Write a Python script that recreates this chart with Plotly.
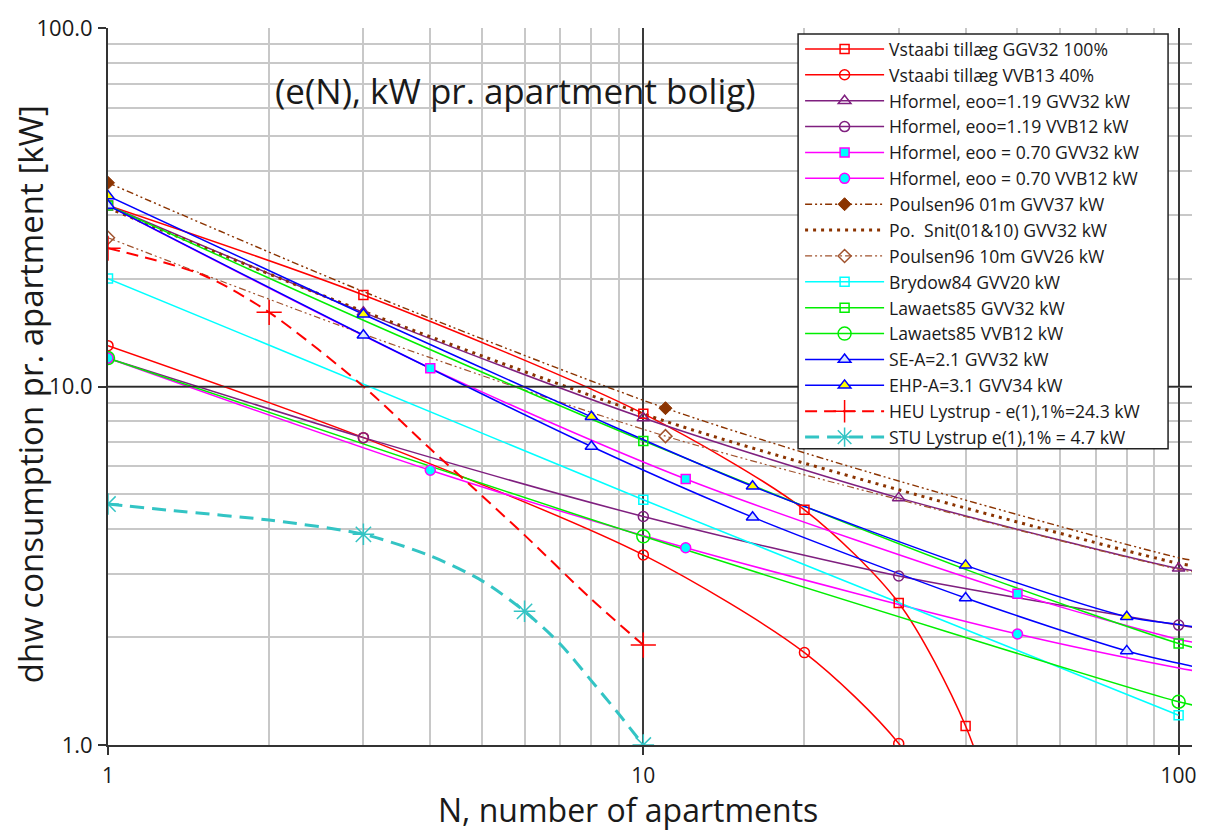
import plotly.graph_objects as go

# ---------------- data ----------------
N_vst_ggv = [1, 3, 10, 20, 30, 40, 50]
e_vst_ggv = [32, 18.0, 8.4, 4.53, 2.49, 1.13, 0.4]
mk_vst_ggv = [0, 1, 2, 3, 4, 5]

N_vst_vvb = [1, 3, 10, 20, 30, 40]
e_vst_vvb = [13, 7.2, 3.39, 1.81, 1.01, 0.5]
mk_vst_vvb = [0, 1, 2, 3, 4]

N_hf119_gvv = [1, 3, 10, 30, 100, 110]
e_hf119_gvv = [32, 16.1, 8.17, 4.89, 3.11, 3.05]
mk_hf119_gvv = [0, 1, 2, 3, 4]

N_hf119_vvb = [1, 3, 10, 30, 100, 110]
e_hf119_vvb = [12, 7.2, 4.34, 2.96, 2.16, 2.11]
mk_hf119_vvb = [0, 1, 2, 3, 4]

N_hf070_gvv = [1, 4, 12, 50, 100, 110]
e_hf070_gvv = [32, 11.25, 5.52, 2.64, 1.97, 1.92]
mk_hf070_gvv = [0, 1, 2, 3]

N_hf070_vvb = [1, 4, 12, 50, 100, 110]
e_hf070_vvb = [12, 5.84, 3.55, 2.04, 1.64, 1.60]
mk_hf070_vvb = [0, 1, 2, 3]

N_p01 = [1, 3, 11, 30, 100, 110]
e_p01 = [37, 18.4, 8.7, 5.45, 3.33, 3.25]
mk_p01 = [0, 2]

N_snit = [1, 3, 11, 30, 100, 110]
e_snit = [31.5, 16.2, 8.0, 5.15, 3.21, 3.14]
mk_snit = []

N_p10 = [1, 3, 11, 30, 100, 110]
e_p10 = [26, 14.0, 7.27, 4.84, 3.09, 3.02]
mk_p10 = [0, 2]

N_bry = [1, 10, 100]
e_bry = [20, 4.83, 1.21]
mk_bry = [0, 1, 2]

N_law_gvv = [1, 3, 10, 40, 100, 110]
e_law_gvv = [32, 15.3, 7.05, 3.09, 1.92, 1.85]
mk_law_gvv = [0, 2, 4]

N_law_vvb = [1, 10, 100, 110]
e_law_vvb = [12, 3.82, 1.32, 1.28]
mk_law_vvb = [0, 1, 2]

N_sea = [1, 3, 8, 16, 40, 80, 100, 110]
e_sea = [32, 13.9, 6.8, 4.32, 2.57, 1.83, 1.69, 1.64]
mk_sea = [0, 1, 2, 3, 4, 5]

N_ehp = [1, 3, 8, 16, 40, 80, 100, 110]
e_ehp = [34, 15.9, 8.23, 5.27, 3.17, 2.28, 2.17, 2.12]
mk_ehp = [0, 1, 2, 3, 4, 5]

N_heu = [1, 1.5, 2, 3, 4, 5, 6, 8, 10]
e_heu = [24.3, 20.5, 16.1, 10.0, 6.7, 4.95, 3.85, 2.55, 1.9]
mk_heu = [0, 2, 8]

N_stu = [1, 1.33, 2, 3, 4, 5, 6, 7, 8, 9, 10]
e_stu = [4.7, 4.5, 4.24, 3.87, 3.37, 2.87, 2.36, 1.91, 1.51, 1.22, 1.0]
mk_stu = [0, 3, 6, 10]

x_tickvals = [1, 10, 100]
x_ticktext = ["1", "10", "100"]
y_tickvals = [1, 10, 100]
y_ticktext = ["1.0", "10.0", "100.0"]
minor_vals = [2, 3, 4, 5, 6, 7, 8, 9, 20, 30, 40, 50, 60, 70, 80, 90]

names = [
    "Vstaabi tillæg GGV32 100%",
    "Vstaabi tillæg VVB13 40%",
    "Hformel, eoo=1.19 GVV32 kW",
    "Hformel, eoo=1.19 VVB12 kW",
    "Hformel, eoo = 0.70 GVV32 kW",
    "Hformel, eoo = 0.70 VVB12 kW",
    "Poulsen96 01m GVV37 kW",
    "Po.\u00a0 Snit(01&10) GVV32 kW",
    "Poulsen96 10m GVV26 kW",
    "Brydow84 GVV20 kW",
    "Lawaets85 GVV32 kW",
    "Lawaets85 VVB12 kW",
    "SE-A=2.1 GVV32 kW",
    "EHP-A=3.1 GVV34 kW",
    "HEU Lystrup - e(1),1%=24.3 kW",
    "STU Lystrup e(1),1% = 4.7 kW",
]

# ---------------- styles ----------------
RED = "#FF0000"; PUR = "#7F1F7F"; MAG = "#FF00FF"; CYA = "#00FFFF"
BR1 = "#8B3300"; BR2 = "#A0522D"; GRN = "#00EE00"; BLU = "#0000FF"; TEAL = "#33C4C4"

series = [
    (N_vst_ggv, e_vst_ggv, mk_vst_ggv, dict(color=RED, width=1.5), dict(symbol="square-open", size=9, color=RED, line=dict(width=1.5, color=RED))),
    (N_vst_vvb, e_vst_vvb, mk_vst_vvb, dict(color=RED, width=1.5), dict(symbol="circle-open", size=10, color=RED, line=dict(width=1.5, color=RED))),
    (N_hf119_gvv, e_hf119_gvv, mk_hf119_gvv, dict(color=PUR, width=1.5), dict(symbol="triangle-up-open", size=11, color=PUR, line=dict(width=1.5, color=PUR))),
    (N_hf119_vvb, e_hf119_vvb, mk_hf119_vvb, dict(color=PUR, width=1.5), dict(symbol="circle-open", size=10, color=PUR, line=dict(width=1.5, color=PUR))),
    (N_hf070_gvv, e_hf070_gvv, mk_hf070_gvv, dict(color=MAG, width=1.5), dict(symbol="square", size=9, color=CYA, line=dict(width=1.5, color=MAG))),
    (N_hf070_vvb, e_hf070_vvb, mk_hf070_vvb, dict(color=MAG, width=1.5), dict(symbol="circle", size=10, color=CYA, line=dict(width=1.5, color=MAG))),
    (N_p01, e_p01, mk_p01, dict(color=BR1, width=1.4, dash="7px,3px,2px,3px,2px,3px"), dict(symbol="diamond", size=10, color=BR1, line=dict(width=1, color=BR1))),
    (N_snit, e_snit, mk_snit, dict(color=BR1, width=3, dash="3px,5px"), dict(symbol="circle", size=1, color=BR1)),
    (N_p10, e_p10, mk_p10, dict(color=BR2, width=1.2, dash="7px,3px,2px,3px,2px,3px"), dict(symbol="diamond-open", size=10, color=BR2, line=dict(width=1.5, color=BR2))),
    (N_bry, e_bry, mk_bry, dict(color=CYA, width=1.5), dict(symbol="square-open", size=9, color=CYA, line=dict(width=1.5, color=CYA))),
    (N_law_gvv, e_law_gvv, mk_law_gvv, dict(color=GRN, width=1.5), dict(symbol="square-open", size=9, color=GRN, line=dict(width=1.5, color=GRN))),
    (N_law_vvb, e_law_vvb, mk_law_vvb, dict(color=GRN, width=1.5), dict(symbol="circle-open", size=13, color=GRN, line=dict(width=1.5, color=GRN))),
    (N_sea, e_sea, mk_sea, dict(color=BLU, width=1.5), dict(symbol="triangle-up", size=11, color="#D8E4FF", line=dict(width=1.5, color=BLU))),
    (N_ehp, e_ehp, mk_ehp, dict(color=BLU, width=1.5), dict(symbol="triangle-up", size=11, color="#FFFF00", line=dict(width=1.5, color=BLU))),
    (N_heu, e_heu, mk_heu, dict(color=RED, width=2, dash="12px,7px"), dict(symbol="cross-thin-open", size=18, color=RED, line=dict(width=1.5, color=RED))),
    (N_stu, e_stu, mk_stu, dict(color=TEAL, width=3, dash="14px,8px"), dict(symbol="asterisk-open", size=18, color=TEAL, line=dict(width=1.5, color=TEAL))),
]

fig = go.Figure()

for N, e, mk, ln, mkr in series:
    fig.add_trace(go.Scatter(x=N, y=e, mode="lines", line=dict(shape="spline", smoothing=0.8, **ln),
                             showlegend=False, hoverinfo="skip"))
for N, e, mk, ln, mkr in series:
    if mk:
        fig.add_trace(go.Scatter(x=[N[i] for i in mk], y=[e[i] for i in mk], mode="markers",
                                 marker=mkr, showlegend=False, hoverinfo="skip"))
# legend entries
for (N, e, mk, ln, mkr), nm in zip(series, names):
    mode = "lines+markers" if mk else "lines"
    fig.add_trace(go.Scatter(x=[None], y=[None], mode=mode, name=nm, line=ln, marker=mkr))

FONT = "Open Sans"
W, H = 1209, 831
PL, PR, PT, PB = 108, 1195, 24, 745      # plot area in page pixels
L, R, T, B = PL, W - PR, PT, H - PB
pw, ph = PR - PL, PB - PT

def px(x):
    return (x - PL) / pw

def py(y):
    return (PB - y) / ph

fig.update_layout(
    width=W, height=H,
    margin=dict(l=L, r=R, t=T, b=B),
    paper_bgcolor="white", plot_bgcolor="white",
    font=dict(family=FONT, color="#1a1a1a"),
    legend=dict(x=px(802), y=py(27), xanchor="left", yanchor="top",
                bgcolor="rgba(0,0,0,0)", borderwidth=0,
                font=dict(family=FONT, size=17.6, color="#1a1a1a"),
                itemwidth=79, tracegroupgap=0),
    xaxis=dict(type="log", range=[0, 2.025], tickvals=x_tickvals, ticktext=x_ticktext,
               showgrid=True, gridcolor="#3a3a3a", gridwidth=1.5,
               minor=dict(tickvals=minor_vals, showgrid=True, gridcolor="#C8C8C8", gridwidth=1.5, ticks=""),
               ticks="outside", ticklen=8, tickcolor="#333", tickwidth=1.5,
               showline=True, linecolor="#333", linewidth=2,
               tickfont=dict(family=FONT, size=21, color="#1a1a1a"), ticklabelstandoff=3,
               ticklabeloverflow="allow", zeroline=False),
    yaxis=dict(type="log", range=[0, 2], tickvals=y_tickvals, ticktext=y_ticktext,
               showgrid=True, gridcolor="#8a8a8a", gridwidth=1.5,
               minor=dict(tickvals=minor_vals, showgrid=True, gridcolor="#C8C8C8", gridwidth=1.5, ticks=""),
               ticks="outside", ticklen=8, tickcolor="#333", tickwidth=1.5,
               showline=True, linecolor="#333", linewidth=2,
               tickfont=dict(family=FONT, size=22, color="#1a1a1a"), ticklabelstandoff=1,
               ticklabeloverflow="allow", zeroline=False),
    shapes=[
        # white box behind the chart caption
        dict(type="rect", xref="paper", yref="paper", x0=px(200), x1=px(773), y0=py(123), y1=py(48),
             fillcolor="white", line=dict(width=0), layer="between"),
        # dark decade line at 10 kW (middle of the log range 1..100)
        dict(type="line", xref="paper", yref="paper", x0=0, x1=1, y0=0.5, y1=0.5,
             line=dict(color="#2a2a2a", width=1.5), layer="above"),
        # legend frame
        dict(type="rect", xref="paper", yref="paper", x0=px(800), x1=px(1171), y0=py(447), y1=py(30),
             fillcolor="white", line=dict(color="#222", width=1.5), layer="above"),
    ],
    annotations=[
        dict(text="(e(N), kW pr. apartment bolig)", xref="paper", yref="paper",
             x=px(517), y=py(87), xanchor="center", yanchor="middle", showarrow=False,
             font=dict(family=FONT, size=35, color="#1a1a1a")),
        dict(text="dhw consumption pr. apartment [kW]", xref="paper", yref="paper",
             x=px(31), y=py(392), xanchor="center", yanchor="middle", showarrow=False,
             textangle=-90, font=dict(family=FONT, size=33, color="#1a1a1a")),
        dict(text="N, number of apartments", xref="paper", yref="paper",
             x=px(629), y=py(810), xanchor="center", yanchor="middle", showarrow=False,
             font=dict(family=FONT, size=32, color="#1a1a1a")),
    ],
)

fig.write_html("out.html", config={"displayModeBar": False},
               post_script="document.body.style.margin='0px';")
